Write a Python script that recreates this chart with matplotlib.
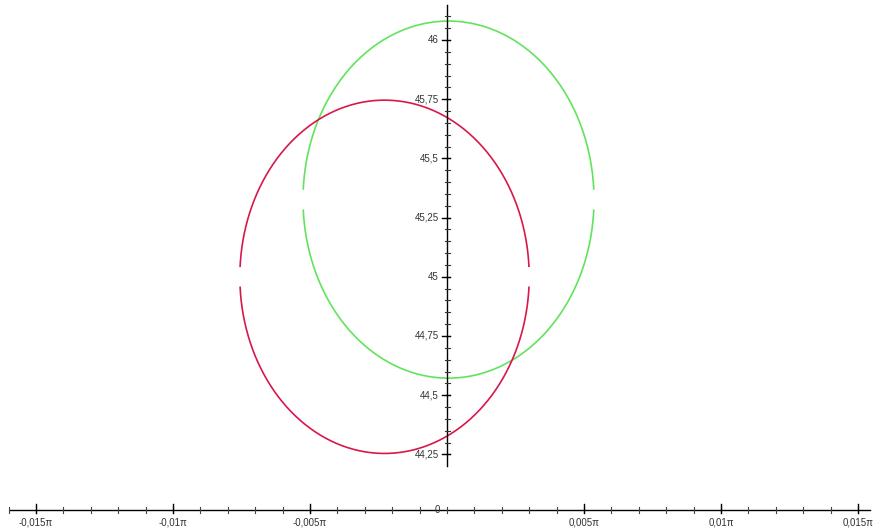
import matplotlib
matplotlib.use("Agg")
import matplotlib.pyplot as plt
import numpy as np

# ellipse parameters (x in units of pi)
red_center = (-0.00228, 45.0)
red_axes = (0.00528, 0.746)
green_center = (0.000055, 45.326)
green_axes = (0.00531, 0.754)

x_ticks = [-0.015, -0.01, -0.005, 0.005, 0.01, 0.015]
x_labels = ["-0,015\u03c0", "-0,01\u03c0", "-0,005\u03c0", "0,005\u03c0", "0,01\u03c0", "0,015\u03c0"]
y_ticks = [44.25, 44.5, 44.75, 45.0, 45.25, 45.5, 45.75, 46.0]
y_labels = ["44,25", "44,5", "44,75", "45", "45,25", "45,5", "45,75", "46"]

# pixel -> data mapping (axes fill the whole figure)
px_per_x = 137 / 0.005
px_per_y = 236.8
x_left = -447 / px_per_x
x_right = (880 - 447) / px_per_x
y_top = 46 + 40 / px_per_y
y_bot = 46 - 490 / px_per_y
x_axis_y = 46 - 470 / px_per_y   # data y of the x-axis line (pixel 510)
y_axis_lo = 46 - 426 / px_per_y
y_axis_hi = 46 + 35 / px_per_y

fig = plt.figure(figsize=(8.8, 5.3), dpi=100)
ax = fig.add_axes([0, 0, 1, 1])
ax.set_xlim(x_left, x_right)
ax.set_ylim(y_bot, y_top)
ax.axis("off")


def halves(center, axes, gap):
    t_up = np.linspace(gap, np.pi - gap, 300)
    t_dn = np.linspace(np.pi + gap, 2 * np.pi - gap, 300)
    out = []
    for t in (t_up, t_dn):
        out.append((center[0] + axes[0] * np.cos(t), center[1] + axes[1] * np.sin(t)))
    return out


for xs, ys in halves(green_center, green_axes, 0.055):
    ax.plot(xs, ys, color="#62e35c", lw=1.2, solid_capstyle="butt")
for xs, ys in halves(red_center, red_axes, 0.055):
    ax.plot(xs, ys, color="#d8184a", lw=1.2, solid_capstyle="butt")

# vertical axis
ax.plot([0, 0], [y_axis_lo, y_axis_hi], color="black", lw=1.0)
tm = 2.5 / px_per_x
minor = np.arange(44.25, 46.15, 0.05)
for v in minor:
    ax.plot([-tm, tm], [v, v], color="#333333", lw=0.8)
for v, lab in zip(y_ticks, y_labels):
    ax.plot([-5 / px_per_x, 3 / px_per_x], [v, v], color="black", lw=1.0)
    ax.text(-8 / px_per_x, v, lab, ha="right", va="center", fontsize=7,
            color="#333333", family="Liberation Sans")

# horizontal axis
ax.plot([-437 / px_per_x, 423 / px_per_x], [x_axis_y, x_axis_y], color="black", lw=1.0)
xm = 2.5 / px_per_y
for v in np.arange(-0.016, 0.0161, 0.001):
    ax.plot([v, v], [x_axis_y - xm, x_axis_y + xm], color="#444444", lw=0.8)
for v, lab in zip(x_ticks, x_labels):
    ax.plot([v, v], [x_axis_y - 3 / px_per_y, x_axis_y + 6 / px_per_y], color="black", lw=1.0)
    ax.text(v, x_axis_y - 8 / px_per_y, lab, ha="center", va="top", fontsize=7,
            color="#333333", family="Liberation Sans")
ax.text(-10 / px_per_x, x_axis_y, "0", ha="center", va="center", fontsize=7,
        color="#333333", family="Liberation Sans")

fig.savefig("out.png", dpi=100, facecolor="white")
